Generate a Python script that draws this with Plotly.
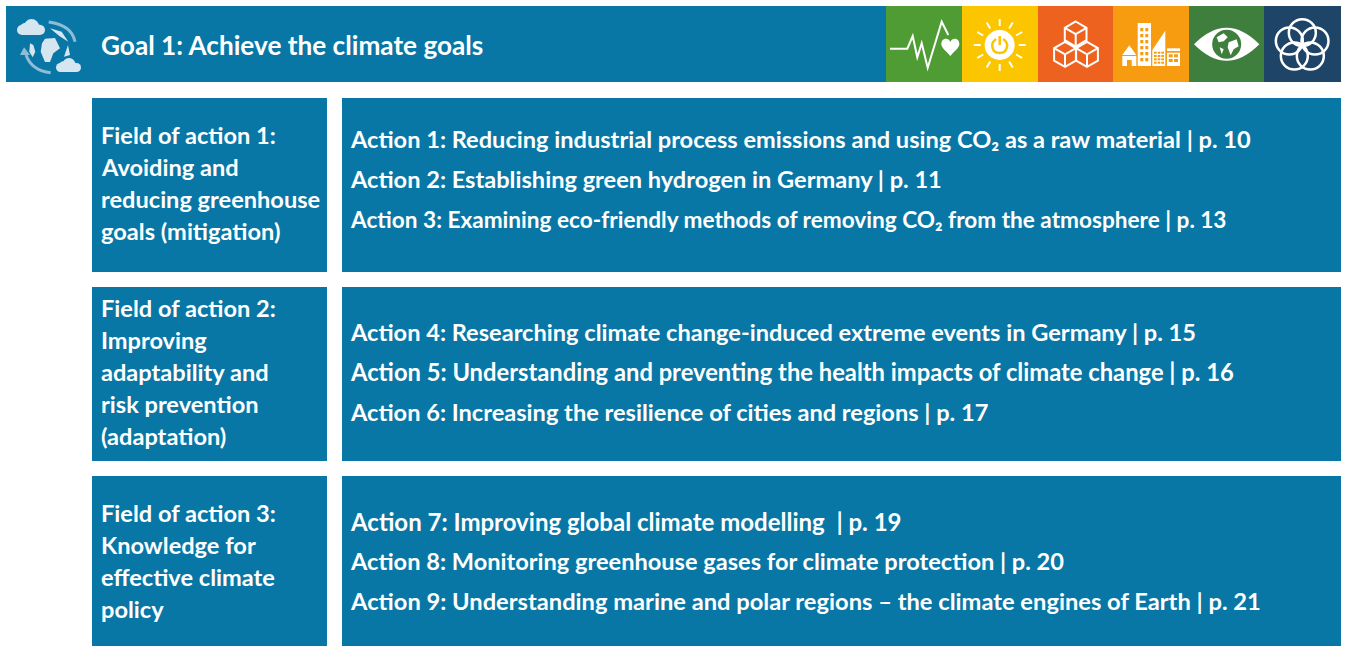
import math
import plotly.graph_objects as go

TITLE = "Goal 1: Achieve the climate goals"
FIELD_1 = ["Field of action 1:", "Avoiding and", "reducing greenhouse", "goals (mitigation)"]
FIELD_2 = ["Field of action 2:", "Improving", "adaptability and", "risk prevention", "(adaptation)"]
FIELD_3 = ["Field of action 3:", "Knowledge for", "effective climate", "policy"]
ACTIONS_1 = [
    "Action 1: Reducing industrial process emissions and using CO\u2082 as a raw material | p. 10",
    "Action 2: Establishing green hydrogen in Germany | p. 11",
    "Action 3: Examining eco-friendly methods of removing CO\u2082 from the atmosphere | p. 13",
]
ACTIONS_2 = [
    "Action 4: Researching climate change-induced extreme events in Germany | p. 15",
    "Action 5: Understanding and preventing the health impacts of climate change | p. 16",
    "Action 6: Increasing the resilience of cities and regions | p. 17",
]
ACTIONS_3 = [
    "Action 7: Improving global climate modelling  | p. 19",
    "Action 8: Monitoring greenhouse gases for climate protection | p. 20",
    "Action 9: Understanding marine and polar regions \u2013 the climate engines of Earth | p. 21",
]

BLUE = "#0877a6"
LIGHT = "#d6e6f0"
MID = "#8fbdd6"
ICON_COLOURS = ["#4f9c34", "#fbc500", "#ee621f", "#f79c10", "#3f7f3e", "#1e4468"]
FONT = "Lato"

shapes, annotations = [], []


def rect(x0, y0, x1, y1, fill):
    shapes.append(dict(type="rect", x0=x0, y0=y0, x1=x1, y1=y1, fillcolor=fill, line_width=0, layer="below"))


def path(d, fill=None, stroke=None, width=0):
    s = dict(type="path", path=d, line=dict(width=width, color=stroke or "rgba(0,0,0,0)"))
    if fill:
        s["fillcolor"] = fill
    shapes.append(s)


def circle(cx, cy, r, fill=None, stroke=None, width=0):
    s = dict(type="circle", x0=cx - r, y0=cy - r, x1=cx + r, y1=cy + r,
             line=dict(width=width, color=stroke or "rgba(0,0,0,0)"))
    if fill:
        s["fillcolor"] = fill
    shapes.append(s)


def poly(points, fill=None, stroke=None, width=0, close=True):
    d = "M" + " L".join(f"{x:.1f},{y:.1f}" for x, y in points) + (" Z" if close else "")
    path(d, fill, stroke, width)


def text(x, y, s, size, color="white", weight=700):
    annotations.append(dict(x=x, y=y, text=s, showarrow=False, xanchor="left", yanchor="middle",
                            align="left", font=dict(family=FONT, size=size, color=color, weight=weight)))


def z(x, y):
    """Icon-strip sketch coordinates to page pixels."""
    return 880 + x / 3, y / 3


# Panels
rect(6, 6, 1341, 82, BLUE)
for i, x0 in enumerate([886, 962, 1038, 1113, 1189, 1264]):
    x1 = [962, 1038, 1113, 1189, 1264, 1341][i]
    rect(x0, 6, x1, 82, ICON_COLOURS[i])
for y0, y1 in [(98, 272), (287, 461), (476, 646)]:
    rect(92, y0, 327, y1, BLUE)
    rect(342, y0, 1341, y1, BLUE)

# Title and texts
text(99, 45, TITLE, 26.2)
for lines, ys in [(FIELD_1, [135, 167, 199, 231]), (FIELD_2, [308, 340, 372, 404, 436]), (FIELD_3, [513, 545, 577, 609])]:
    for y, line in zip(ys, lines):
        text(99, y, line, 23.6)
for lines, ys, sizes in [(ACTIONS_1, [139, 179, 219], [23.6, 23.6, 22.6]),
                         (ACTIONS_2, [332, 372, 412], [23.6, 23.75, 23.6]),
                         (ACTIONS_3, [521, 561, 601], [24.0, 23.6, 23.7])]:
    for y, line, size in zip(ys, lines, sizes):
        text(348, y, line, size)

# Heartbeat icon
poly([z(*p) for p in [(30, 146), (82, 146), (98, 108), (112, 172), (125, 130), (143, 203), (185, 65), (205, 105)]],
     stroke="white", width=2, close=False)
hx, hy = z(211, 168)
path(f"M{hx},{hy} C{hx-4},{hy-5} {hx-9},{hy-8} {hx-9},{hy-12} C{hx-9},{hy-18} {hx-2},{hy-19} {hx},{hy-14} "
     f"C{hx+2},{hy-19} {hx+9},{hy-18} {hx+9},{hy-12} C{hx+9},{hy-8} {hx+4},{hy-5} {hx},{hy} Z", fill="white")

# Sun icon
sx, sy = z(359, 135)
circle(sx, sy, 15, fill="white")
for k in range(12):
    a = math.radians(30 * k)
    poly([(sx + 19 * math.cos(a), sy + 19 * math.sin(a)), (sx + 26 * math.cos(a), sy + 26 * math.sin(a))],
         stroke="white", width=2, close=False)
path(f"M{sx-3.5},{sy-6} C{sx-10},{sy-2} {sx-8},{sy+8} {sx},{sy+8} C{sx+8},{sy+8} {sx+10},{sy-2} {sx+3.5},{sy-6}",
     stroke=ICON_COLOURS[1], width=2.5)
poly([(sx, sy - 9), (sx, sy)], stroke=ICON_COLOURS[1], width=2.5, close=False)


# Cubes icon
def cube(cx, cy, s):
    dx = s * 0.87
    dy = s * 0.5
    top = (cx, cy - s)
    hexagon = [top, (cx + dx, cy - dy), (cx + dx, cy + dy), (cx, cy + s), (cx - dx, cy + dy), (cx - dx, cy - dy)]
    poly(hexagon, stroke="white", width=2)
    poly([(cx - dx, cy - dy), (cx, cy), (cx + dx, cy - dy)], stroke="white", width=2, close=False)
    poly([(cx, cy), (cx, cy + s)], stroke="white", width=2, close=False)


for c in [(587, 102), (555, 163), (621, 163)]:
    cube(*z(*c), 12.5)

# City icon
W = "white"
c = ICON_COLOURS[3]
poly([z(*p) for p in [(727, 165), (748, 136), (769, 165)]], fill=W)
rect_pts = lambda a, b, e, f: [z(a, b), z(e, b), z(e, f), z(a, f)]
poly(rect_pts(727, 168, 769, 198), fill=W)
poly(rect_pts(741, 180, 755, 198), fill=c)
poly(rect_pts(773, 69, 813, 198), fill=W)
for row in range(6):
    for col in range(2):
        xx, yy = 781 + col * 15, 84 + row * 18
        poly(rect_pts(xx, yy, xx + 9, yy + 10), fill=c)
poly([z(*p) for p in [(817, 150), (856, 92), (856, 198), (817, 198)]], fill=W)
for row in range(4):
    for col in range(3):
        xx, yy = 822 + col * 11, 155 + row * 10
        poly(rect_pts(xx, yy, xx + 8, yy + 6), fill=c)
poly(rect_pts(861, 145, 900, 198), fill=W)
poly(rect_pts(861, 153, 900, 158), fill=c)
for row in range(2):
    for col in range(2):
        xx, yy = 866 + col * 16, 163 + row * 14
        poly(rect_pts(xx, yy, xx + 12, yy + 9), fill=c)

# Eye icon
ex0, ey = z(942, 133)
ex1, _ = z(1138, 133)
em = (ex0 + ex1) / 2
path(f"M{ex0},{ey} Q{em},{ey-33} {ex1},{ey} Q{em},{ey+33} {ex0},{ey} Z", fill=W)
circle(em, ey, 14.5, fill=ICON_COLOURS[4])
path(f"M{em-10},{ey-7} L{em-3},{ey-11} L{em+1},{ey-7} L{em-3},{ey-3} L{em-8},{ey-2} Z", fill=W)
path(f"M{em+2},{ey-2} L{em+10},{ey-5} L{em+12},{ey+2} L{em+7},{ey+5} L{em+4},{ey+11} L{em+1},{ey+3} Z", fill=W)
path(f"M{em-7},{ey+3} L{em-3},{ey+5} L{em-5},{ey+10} Z", fill=W)

# Flower of rings icon
for p in [(1267, 98), (1228, 123), (1305, 123), (1243, 168), (1291, 168)]:
    circle(*z(*p), 13.5, stroke="white", width=2.5)


# Globe icon at the left
def zz(x, y):
    return x / 3, y / 3


def cloud(x0, x1, y0, y1):
    w, h = x1 - x0, y1 - y0
    r = h * 0.32
    shapes.append(dict(type="rect", x0=x0 + r, y0=y1 - 2 * r, x1=x1 - r, y1=y1, fillcolor=LIGHT, line_width=0))
    circle(x0 + r, y1 - r, r, fill=LIGHT)
    circle(x1 - r, y1 - r, r, fill=LIGHT)
    circle(x0 + w * 0.52, y0 + h * 0.47, h * 0.47, fill=LIGHT)
    circle(x0 + w * 0.3, y0 + h * 0.58, h * 0.34, fill=LIGHT)


cloud(17, 45, 19, 35)
cloud(56, 81, 58, 72)
a, b = zz(146, 66), zz(225, 125)
ctrl = zz(215, 75)
path(f"M{a[0]},{a[1]} Q{ctrl[0]},{ctrl[1]} {b[0]},{b[1]}", stroke=MID, width=3)
a, b = zz(78, 165), zz(152, 218)
ctrl = zz(95, 212)
path(f"M{a[0]},{a[1]} Q{ctrl[0]},{ctrl[1]} {b[0]},{b[1]}", stroke=MID, width=3)
poly([zz(72, 142), zz(60, 165), zz(90, 165)], fill=MID)
poly([zz(*p) for p in [(135, 116), (165, 114), (180, 145), (160, 160), (150, 186), (135, 186), (122, 155), (126, 130)]], fill=LIGHT)
poly([zz(*p) for p in [(90, 130), (100, 135), (106, 155), (98, 172), (88, 155)]], fill=LIGHT)
poly([zz(*p) for p in [(150, 85), (185, 95), (205, 125), (178, 108)]], fill=LIGHT)
poly([zz(*p) for p in [(204, 135), (210, 165), (192, 170)]], fill=LIGHT)

fig = go.Figure()
fig.update_layout(
    width=1346, height=646, autosize=False,
    margin=dict(l=0, r=0, t=0, b=0),
    paper_bgcolor="white", plot_bgcolor="white",
    showlegend=False, shapes=shapes, annotations=annotations,
    xaxis=dict(range=[0, 1346], visible=False, fixedrange=True),
    yaxis=dict(range=[646, 0], visible=False, fixedrange=True),
)
fig.write_html("out.html", config=dict(displayModeBar=False),
               post_script="document.body.style.margin='0';document.body.style.overflow='hidden';")
